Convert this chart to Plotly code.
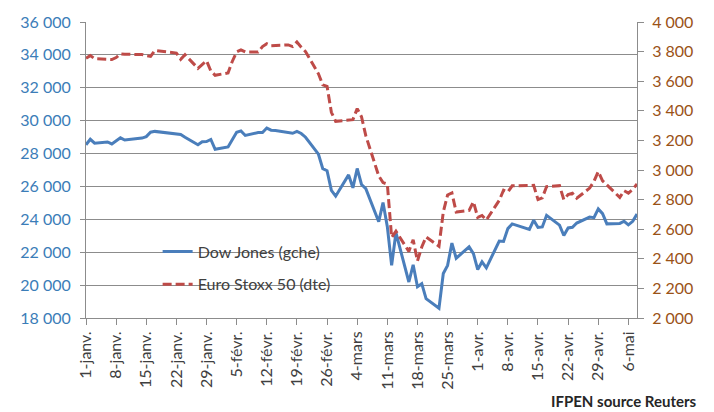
import pandas as pd
import plotly.graph_objects as go

# Trading-day dates (weekdays) from 1 Jan to 8 May 2020
dates = [
    "2020-01-01", "2020-01-02", "2020-01-03", "2020-01-06", "2020-01-07", "2020-01-08", "2020-01-09", "2020-01-10",
    "2020-01-13", "2020-01-14", "2020-01-15", "2020-01-16", "2020-01-17", "2020-01-20", "2020-01-21", "2020-01-22",
    "2020-01-23", "2020-01-24", "2020-01-27", "2020-01-28", "2020-01-29", "2020-01-30", "2020-01-31",
    "2020-02-03", "2020-02-04", "2020-02-05", "2020-02-06", "2020-02-07", "2020-02-10", "2020-02-11", "2020-02-12",
    "2020-02-13", "2020-02-14", "2020-02-17", "2020-02-18", "2020-02-19", "2020-02-20", "2020-02-21",
    "2020-02-24", "2020-02-25", "2020-02-26", "2020-02-27", "2020-02-28",
    "2020-03-02", "2020-03-03", "2020-03-04", "2020-03-05", "2020-03-06", "2020-03-09", "2020-03-10", "2020-03-11",
    "2020-03-12", "2020-03-13", "2020-03-16", "2020-03-17", "2020-03-18", "2020-03-19", "2020-03-20",
    "2020-03-23", "2020-03-24", "2020-03-25", "2020-03-26", "2020-03-27", "2020-03-30", "2020-03-31",
    "2020-04-01", "2020-04-02", "2020-04-03", "2020-04-06", "2020-04-07", "2020-04-08", "2020-04-09", "2020-04-10",
    "2020-04-13", "2020-04-14", "2020-04-15", "2020-04-16", "2020-04-17", "2020-04-20", "2020-04-21", "2020-04-22",
    "2020-04-23", "2020-04-24", "2020-04-27", "2020-04-28", "2020-04-29", "2020-04-30",
    "2020-05-01", "2020-05-04", "2020-05-05", "2020-05-06", "2020-05-07", "2020-05-08",
]

dow_jones = [
    28538, 28868, 28634, 28703, 28583, 28745, 28956, 28824,
    28907, 28940, 29030, 29298, 29348, None, 29196, 29186,
    29160, 28990, 28536, 28723, 28734, 28860, 28256,
    28400, 28808, 29291, 29380, 29103, 29277, 29276, 29551,
    29423, 29398, None, 29232, 29348, 29219, 28992,
    27961, 27081, 26957, 25766, 25409,
    26703, 25917, 27091, 26121, 25865, 23851, 25018, 23553,
    21200, 23185, 20189, 21237, 19899, 20087, 19174,
    18592, 20704, 21200, 22552, 21637, 22327, 21917,
    20943, 21413, 21053, 22680, 22654, 23434, 23720, None,
    23390, 23950, 23505, 23538, 24242, 23650, 23019, 23476,
    23516, 23775, 24134, 24101, 24634, 24346,
    23724, 23750, 23883, 23665, 23876, 24331,
]

euro_stoxx = [
    3755, 3773, 3752, 3748, 3746, 3760, 3785, 3782,
    3778, 3780, 3772, 3768, 3808, 3800, 3795, 3790,
    3748, 3779, 3687, 3716, 3738, 3669, 3640,
    3656, 3735, 3798, 3812, 3798, 3797, 3834, 3853,
    3840, 3840, 3845, 3834, 3865, 3830, 3800,
    3650, 3575, 3565, 3390, 3329,
    3337, 3340, 3415, 3360, 3232, 2960, 2915, 2905,
    2545, 2586, 2450, 2529, 2385, 2480, 2548,
    2485, 2716, 2831, 2845, 2716, 2727, 2786,
    2680, 2693, 2662, 2795, 2863, 2851, 2893, None,
    None, 2896, 2800, 2812, 2888, 2894, 2800, 2834,
    2843, 2809, 2878, 2923, 2989, 2927,
    None, 2815, 2860, 2844, 2869, 2905,
]

tick_labels = [
    "1-janv.", "8-janv.", "15-janv.", "22-janv.", "29-janv.",
    "5-févr.", "12-févr.", "19-févr.", "26-févr.",
    "4-mars", "11-mars", "18-mars", "25-mars",
    "1-avr.", "8-avr.", "15-avr.", "22-avr.", "29-avr.", "6-mai",
]
tick_dates = pd.date_range("2020-01-01", periods=len(tick_labels), freq="7D")

series_names = ["Dow Jones (gche)", "Euro Stoxx 50 (dte)"]
source_text = "IFPEN source Reuters"

FONT = "Lato, Calibri, Carlito, sans-serif"
GRID = "#8c8c8c"

fig = go.Figure()
fig.add_trace(go.Scatter(
    x=dates, y=dow_jones, name=series_names[0], mode="lines",
    line=dict(color="#4A7EBB", width=3), connectgaps=True,
    legendgroup="a",
))
fig.add_trace(go.Scatter(
    x=dates, y=euro_stoxx, name=series_names[1], mode="lines", yaxis="y2",
    line=dict(color="#BE4B48", width=3, dash="9px,4px"), connectgaps=True,
    legendgroup="b",
))

fig.update_layout(
    width=714, height=412,
    margin=dict(l=86, r=77, t=17, b=94),
    paper_bgcolor="white", plot_bgcolor="white",
    separators=", ",
    font=dict(family=FONT, size=16, color="#404040"),
    showlegend=True,
    legend=dict(
        x=0.13, y=0.282, xanchor="left", yanchor="top",
        bgcolor="rgba(0,0,0,0)", traceorder="grouped", tracegroupgap=9,
        font=dict(family=FONT, size=16, color="#404040"),
    ),
    xaxis=dict(
        type="date", range=["2020-01-01", "2020-05-08"],
        tickvals=tick_dates, ticktext=tick_labels, tickangle=-90,
        ticks="outside", ticklen=6, tickcolor=GRID,
        showline=True, linecolor=GRID, linewidth=1, showgrid=False,
        tickfont=dict(family=FONT, size=16, color="#404040"),
    ),
    yaxis=dict(
        range=[18000, 36000], dtick=2000, tick0=18000, tickformat=",",
        ticks="outside", ticklen=5, tickcolor=GRID,
        showline=True, linecolor=GRID, linewidth=1,
        showgrid=True, gridcolor=GRID, gridwidth=1, zeroline=False,
        ticklabelstandoff=6,
        tickfont=dict(family=FONT, size=16, color="#3B7DB8"),
    ),
    yaxis2=dict(
        range=[2000, 4000], dtick=200, tick0=2000, tickformat=",",
        overlaying="y", side="right",
        ticks="outside", ticklen=6, tickcolor=GRID,
        showline=True, linecolor=GRID, linewidth=1,
        showgrid=False, zeroline=False,
        ticklabelstandoff=5,
        tickfont=dict(family=FONT, size=16, color="#9A5217"),
    ),
)

fig.add_annotation(
    text="<b>" + source_text + "</b>", xref="paper", yref="paper",
    x=1.112, y=-0.28, xanchor="right", yanchor="middle", showarrow=False,
    font=dict(family=FONT, size=15, color="#262626"),
)

fig.write_html("out.html")
